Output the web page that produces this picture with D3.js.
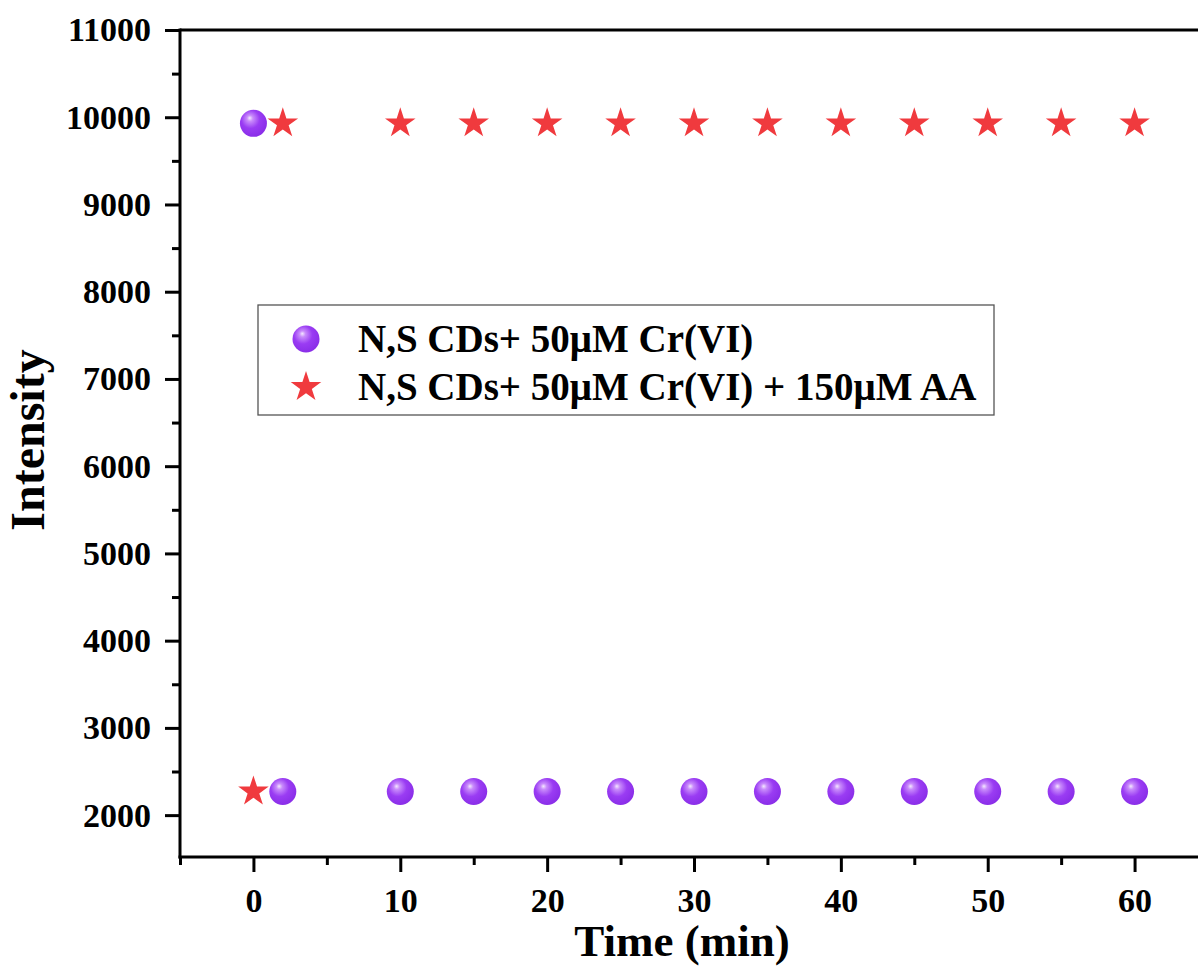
<!DOCTYPE html>
<html>
<head>
<meta charset="utf-8">
<script src="https://cdn.jsdelivr.net/npm/d3@7"></script>
<style>
  html, body { margin: 0; padding: 0; background: #fff; overflow: hidden; }
  svg { display: block; }
  text { font-family: "Liberation Serif", "Times New Roman", serif; font-weight: bold; fill: #000; }
</style>
</head>
<body>
<svg id="chart" width="1198" height="969"></svg>
<script>
// Sampling times (min)
const timesCr = [0, 2, 10, 15, 20, 25, 30, 35, 40, 45, 50, 55, 60];
// Intensity of N,S CDs + 50µM Cr(VI)
const intensityCr = [9930, 2270, 2270, 2270, 2270, 2270, 2270, 2270, 2270, 2270, 2270, 2270, 2270];
// Intensity of N,S CDs + 50µM Cr(VI) + 150µM AA
const intensityAA = [2270, 9930, 9930, 9930, 9930, 9930, 9930, 9930, 9930, 9930, 9930, 9930, 9930];

const xTicks = [0, 10, 20, 30, 40, 50, 60];
const xMinorTicks = [-5, 5, 15, 25, 35, 45, 55];
const yTicks = [2000, 3000, 4000, 5000, 6000, 7000, 8000, 9000, 10000, 11000];
const yMinorTicks = [2500, 3500, 4500, 5500, 6500, 7500, 8500, 9500, 10500];

const seriesNames = ["N,S CDs+ 50\u03bcM Cr(VI)", "N,S CDs+ 50\u03bcM Cr(VI) + 150\u03bcM AA"];

const svg = d3.select("#chart");

const x = d3.scaleLinear().domain([-5, 65]).range([180, 1208]);
const y = d3.scaleLinear().domain([1520, 11000]).range([857, 30]);

// Gradient for the shaded spheres
const defs = svg.append("defs");
const grad = defs.append("radialGradient")
  .attr("id", "sphere").attr("cx", "0.42").attr("cy", "0.38").attr("r", "0.62")
  .attr("fx", "0.36").attr("fy", "0.3");
grad.append("stop").attr("offset", "0").attr("stop-color", "#f4e8ff");
grad.append("stop").attr("offset", "0.18").attr("stop-color", "#c98cfb");
grad.append("stop").attr("offset", "0.55").attr("stop-color", "#9a3cf3");
grad.append("stop").attr("offset", "1").attr("stop-color", "#8a2ee8");

const starPath = d3.symbol().type(d3.symbolStar).size(290)();

const axisColor = "#000";
// Top frame line
svg.append("line").attr("x1", x(-5)).attr("x2", 1198).attr("y1", y(11000)).attr("y2", y(11000))
  .attr("stroke", axisColor).attr("stroke-width", 3);

// Y axis
const yAxis = svg.append("g").attr("transform", `translate(${x(-5)},0)`)
  .call(d3.axisLeft(y).tickValues(yTicks).tickSize(15).tickPadding(14).tickFormat(d3.format("d")));
yAxis.select(".domain").remove();
yAxis.selectAll(".tick line").attr("stroke-width", 3);
yAxis.selectAll(".tick text").style("font-size", "34px");
svg.append("g").attr("transform", `translate(${x(-5)},0)`)
  .call(d3.axisLeft(y).tickValues(yMinorTicks).tickSize(8).tickFormat(""))
  .call(g => g.select(".domain").remove())
  .selectAll(".tick line").attr("stroke-width", 3);
svg.append("line").attr("x1", x(-5)).attr("x2", x(-5)).attr("y1", y(11000) - 1.5).attr("y2", y(1520) + 1.5)
  .attr("stroke", axisColor).attr("stroke-width", 3);

// X axis
const xAxis = svg.append("g").attr("transform", `translate(0,${y(1520)})`)
  .call(d3.axisBottom(x).tickValues(xTicks).tickSize(15).tickPadding(16).tickFormat(d3.format("d")));
xAxis.select(".domain").remove();
xAxis.selectAll(".tick line").attr("stroke-width", 3);
xAxis.selectAll(".tick text").style("font-size", "34px");
svg.append("g").attr("transform", `translate(0,${y(1520)})`)
  .call(d3.axisBottom(x).tickValues(xMinorTicks).tickSize(8).tickFormat(""))
  .call(g => g.select(".domain").remove())
  .selectAll(".tick line").attr("stroke-width", 3);
svg.append("line").attr("x1", x(-5) - 1.5).attr("x2", 1198).attr("y1", y(1520)).attr("y2", y(1520))
  .attr("stroke", axisColor).attr("stroke-width", 3);

// Axis titles
svg.append("text").attr("x", 682).attr("y", 956).attr("text-anchor", "middle")
  .style("font-size", "45px").text("Time (min)");
svg.append("text").attr("transform", "translate(44,440) rotate(-90)")
  .attr("text-anchor", "middle").style("font-size", "48px").text("Intensity");

// Data markers
const crData = timesCr.map((t, i) => ({ t, v: intensityCr[i] }));
const aaData = timesCr.map((t, i) => ({ t, v: intensityAA[i] }));

svg.append("g").selectAll("path").data(aaData).join("path")
  .attr("d", starPath)
  .attr("transform", d => `translate(${x(d.t)},${y(d.v)})`)
  .attr("fill", "#f03a3e");

svg.append("g").selectAll("circle").data(crData).join("circle")
  .attr("cx", d => x(d.t)).attr("cy", d => y(d.v)).attr("r", 13.5)
  .attr("fill", "url(#sphere)");

// Legend
const legend = svg.append("g");
legend.append("rect").attr("x", 258).attr("y", 305).attr("width", 736).attr("height", 110)
  .attr("fill", "#fff").attr("stroke", "#555").attr("stroke-width", 1.3);
legend.append("circle").attr("cx", 306).attr("cy", 339).attr("r", 13.5).attr("fill", "url(#sphere)");
legend.append("path").attr("d", starPath).attr("transform", "translate(306,387)").attr("fill", "#f03a3e");
legend.append("text").attr("x", 358).attr("y", 352).style("font-size", "39px").text(seriesNames[0]);
legend.append("text").attr("x", 358).attr("y", 400).style("font-size", "39px").text(seriesNames[1]);
</script>
</body>
</html>
